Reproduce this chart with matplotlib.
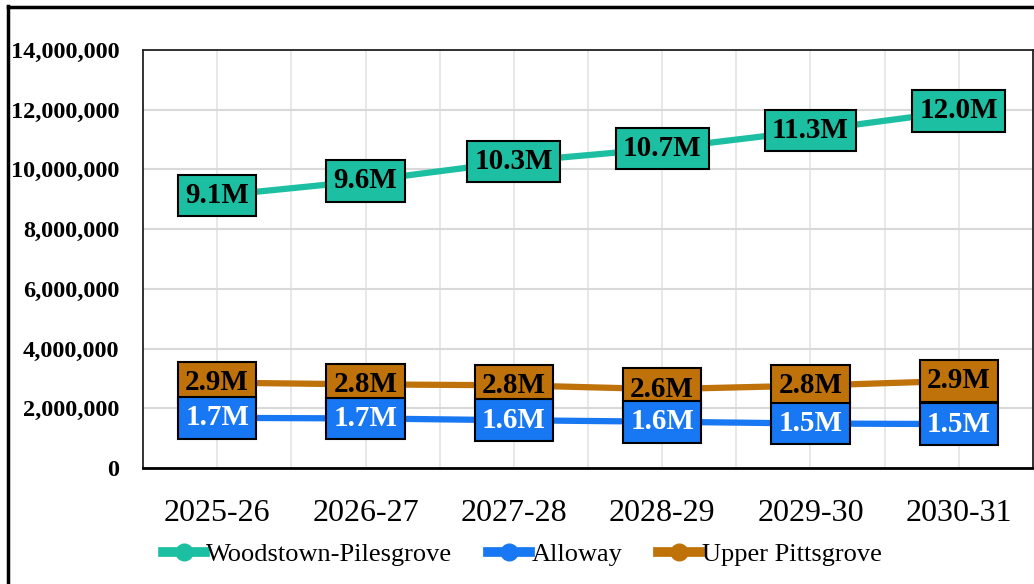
import matplotlib
matplotlib.use("Agg")
import matplotlib.pyplot as plt
from matplotlib.lines import Line2D
from matplotlib.ticker import FuncFormatter, MultipleLocator
import numpy as np

years = ["2025-26", "2026-27", "2027-28", "2028-29", "2029-30", "2030-31"]
woodstown = [9_120_000, 9_620_000, 10_260_000, 10_700_000, 11_300_000, 11_960_000]
alloway = [1_680_000, 1_660_000, 1_600_000, 1_550_000, 1_490_000, 1_470_000]
upper_pittsgrove = [2_860_000, 2_800_000, 2_770_000, 2_640_000, 2_760_000, 2_920_000]

series = [
    ("Woodstown-Pilesgrove", woodstown, "#1DBFA3", "black"),
    ("Alloway", alloway, "#1877F2", "white"),
    ("Upper Pittsgrove", upper_pittsgrove, "#BF7209", "black"),
]
label_z = {"Woodstown-Pilesgrove": 5, "Upper Pittsgrove": 6, "Alloway": 7}

plt.rcParams['font.family'] = ['Liberation Serif', 'DejaVu Serif']

fig = plt.figure(figsize=(10.34, 5.84), dpi=100)
ax = fig.add_axes([143/1034, 1-468/584, (1033-143)/1034, (468-50)/584])

x = np.arange(len(years))
handles = []
for name, vals, color, tcolor in series:
    ax.plot(x, vals, color=color, lw=4.5, solid_capstyle='round', zorder=3)
    for xi, v in zip(x, vals):
        ax.text(xi, v, f"{v/1e6:.1f}M", ha='center', va='center', fontsize=21,
                fontweight='bold', color=tcolor, zorder=label_z[name],
                bbox=dict(boxstyle='square,pad=0.25', facecolor=color,
                          edgecolor='black', linewidth=1.5))
    handles.append(Line2D([0], [0], color=color, lw=7, marker='o', markersize=12,
                          markerfacecolor=color, markeredgecolor=color, label=name))

ax.set_xlim(-0.5, 5.5)
ax.set_ylim(0, 14_000_000)
ax.yaxis.set_major_locator(MultipleLocator(2_000_000))
ax.yaxis.set_major_formatter(FuncFormatter(lambda v, p: f"{int(v):,}"))
ax.set_xticks(x)
ax.set_xticklabels(years, fontsize=23)
for lab in ax.get_yticklabels():
    lab.set_fontweight('bold')
    lab.set_fontsize(17.5)
ax.tick_params(axis='y', length=0, pad=17)
ax.tick_params(axis='x', length=0, pad=22)

for gx in np.arange(0, 5.51, 0.5):
    ax.axvline(gx, color='#e6e6e6', lw=1.3, zorder=0)
ax.yaxis.grid(True, color='#d9d9d9', lw=1.5, zorder=0)
ax.set_axisbelow(True)

for s in ['top', 'right', 'left']:
    ax.spines[s].set_color('#222222')
    ax.spines[s].set_linewidth(1.3)
ax.spines['bottom'].set_color('black')
ax.spines['bottom'].set_linewidth(2)

fig.legend(handles=handles, loc='center', bbox_to_anchor=(522/1034, 1-554/584),
           ncol=3, frameon=False, fontsize=19, handlelength=1.6,
           handletextpad=0.05, columnspacing=1.35)

# outer border (left and top)
fig.add_artist(Line2D([8/1034, 8/1034], [0, 1-6/584], color='black', lw=2.5,
                      transform=fig.transFigure))
fig.add_artist(Line2D([8/1034, 1], [1-7/584, 1-7/584], color='black', lw=2.5,
                      transform=fig.transFigure))

fig.savefig("out.png", dpi=100)
